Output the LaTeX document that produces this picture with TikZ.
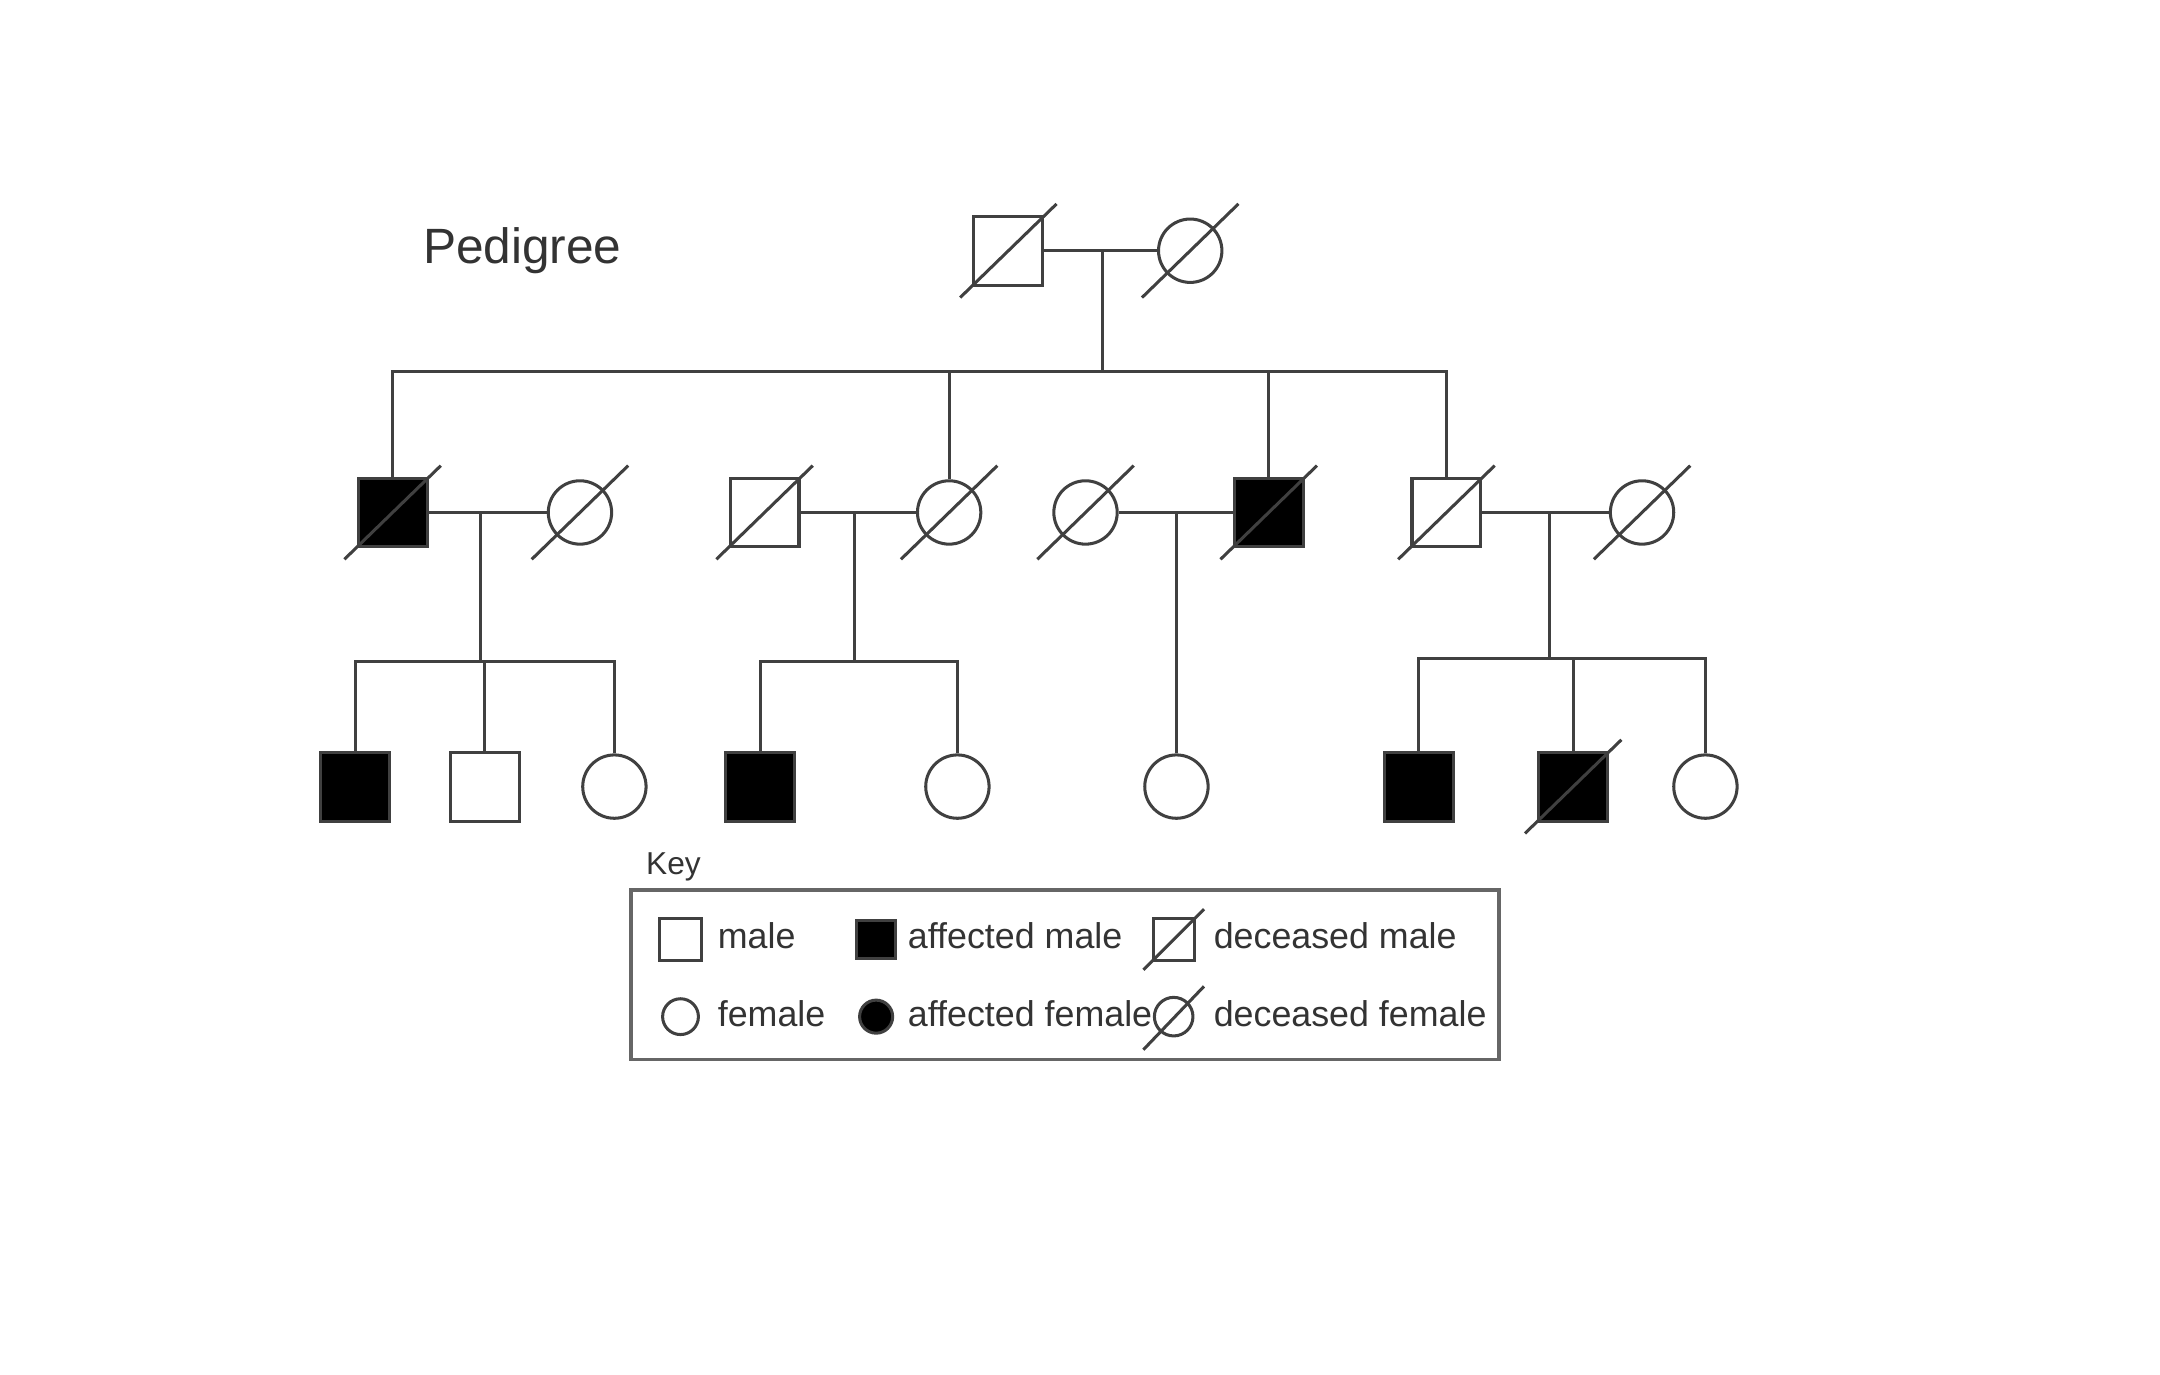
\documentclass[tikz,border=0pt]{standalone}
\usepackage{fontspec}
\setmainfont{Liberation Sans}
\usetikzlibrary{calc}
\begin{document}
\begin{tikzpicture}[x=0.5pt,y=-0.5pt,line width=1.1pt,draw=black!80,
  ml/.style={draw=black!75,fill=white,minimum size=25pt,inner sep=0pt,rectangle},
  am/.style={ml,fill=black},
  fl/.style={draw=black!75,fill=white,minimum size=23pt,inner sep=0pt,circle},
  af/.style={fl,fill=black},
  lk/.style={draw=black!75,line width=1.1pt},
  txt/.style={font=\fontsize{13}{15}\selectfont,text=black!80,anchor=west,inner sep=0pt}]
\useasboundingbox (0,0) rectangle (1568,998);
% gen1
\node[ml] (g1m) at (732,182) {};
\node[fl] (g1f) at (864,182) {};
\coordinate (c1) at (800,182);
\coordinate (s1) at (800,270);
% gen2
\node[am] (a) at (285,372) {};
\node[fl] (b) at (421,372) {};
\node[ml] (c) at (555,372) {};
\node[fl] (d) at (689,372) {};
\node[fl] (e) at (788,372) {};
\node[am] (f) at (921,372) {};
\node[ml] (g) at (1050,372) {};
\node[fl] (h) at (1192,372) {};
% gen3
\node[am] (k1) at (258,571) {};
\node[ml] (k2) at (352,571) {};
\node[fl] (k3) at (446,571) {};
\node[am] (k4) at (552,571) {};
\node[fl] (k5) at (695,571) {};
\node[fl] (k6) at (854,571) {};
\node[am] (k7) at (1030,571) {};
\node[am] (k8) at (1142,571) {};
\node[fl] (k9) at (1238,571) {};
\begin{scope}[lk]
\draw (g1m.east) -- (g1f.west);
\draw (c1) -- (s1);
\draw (a.north) |- (s1) -| (g.north);
\draw (d.north) -- (d.north|-s1);
\draw (f.north) -- (f.north|-s1);
\draw (a.east) -- (b.west);
\draw (c.east) -- (d.west);
\draw (e.east) -- (f.west);
\draw (g.east) -- (h.west);
\coordinate (p1) at (349,372); \coordinate (q1) at (349,480);
\draw (p1) -- (q1);
\draw (k1.north) |- (q1) -| (k3.north);
\draw (k2.north) -- (k2.north|-q1);
\coordinate (p2) at (620,372); \coordinate (q2) at (620,480);
\draw (p2) -- (q2);
\draw (k4.north) |- (q2) -| (k5.north);
\draw (k6.north|-e.east) -- (k6.north);
\coordinate (p4) at (1125,372); \coordinate (q4) at (1125,478);
\draw (p4) -- (q4);
\draw (k7.north) |- (q4) -| (k9.north);
\draw (k8.north) -- (k8.north|-q4);
\end{scope}
\foreach \n in {g1m,g1f,a,b,c,d,e,f,g,h,k8}{\draw[lk] ($(\n)+(-35,34)$) -- ($(\n)+(35,-34)$);}
\node[txt,font=\fontsize{18}{20}\selectfont] (title) at (306,182) {Pedigree};
% key
\node[txt,anchor=south west,font=\fontsize{11.5}{13}\selectfont] (keyl) at (468,641) {Key};
\node[draw=black!60,line width=1.3pt,minimum width=315pt,minimum height=61.5pt,inner sep=0pt] (keybox) at (773,707.5) {};
\node[ml,minimum size=15pt] (l1) at (494,682) {};
\node[txt] at (520,679) {male};
\node[am,minimum size=14pt] (l2) at (636,682) {};
\node[txt] at (658,679) {affected male};
\node[ml,minimum size=15pt] (l3) at (852,682) {};
\draw[lk] ($(l3)+(-22,22)$) -- ($(l3)+(22,-22)$);
\node[txt] at (880,679) {deceased male};
\node[fl,minimum size=13pt] (l4) at (494,738) {};
\node[txt] at (520,736) {female};
\node[af,minimum size=12pt] (l5) at (636,738) {};
\node[txt] at (658,736) {affected female};
\node[fl,minimum size=14pt] (l6) at (852,738) {};
\draw[lk] ($(l6)+(-22,24)$) -- ($(l6)+(22,-22)$);
\node[txt] at (880,736) {deceased female};
\end{tikzpicture}
\end{document}
